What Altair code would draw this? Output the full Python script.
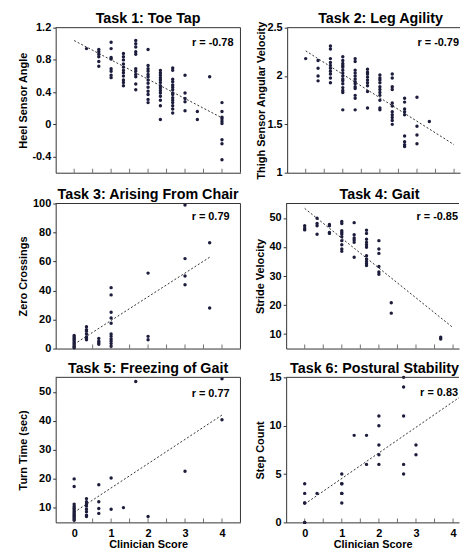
import altair as alt
import pandas as pd

FONT = "Liberation Sans"
INK = "#1c1c3c"
FRAME = "#333333"

# ---- data: x columns are clinician scores in thirds (k -> k/3) ----
t1_cols = [1, 2, 3, 4, 5, 6, 7, 8, 9, 10, 11, 12]
t1_vals = [
    [0.94],
    [0.93, 0.90, 0.87, 0.84, 0.78, 0.72],
    [1.02, 0.94, 0.83, 0.81, 0.69, 0.66, 0.61, 0.58],
    [0.88, 0.84, 0.80, 0.75, 0.71, 0.67, 0.64, 0.60, 0.55, 0.52, 0.48],
    [1.04, 1.00, 0.96, 0.90, 0.87, 0.69, 0.66, 0.62, 0.59, 0.50, 0.43],
    [0.93, 0.73, 0.69, 0.66, 0.62, 0.59, 0.55, 0.51, 0.46, 0.41, 0.37, 0.31, 0.27],
    [0.67, 0.64, 0.61, 0.58, 0.55, 0.52, 0.48, 0.45, 0.42, 0.39, 0.35, 0.30, 0.23, 0.06],
    [0.70, 0.67, 0.56, 0.53, 0.49, 0.46, 0.43, 0.39, 0.37, 0.33, 0.30, 0.27, 0.23, 0.19, 0.14],
    [0.61, 0.39, 0.32, 0.28, 0.17],
    [0.16, 0.06],
    [0.59],
    [0.27, 0.16, 0.09, 0.07, 0.04, 0.01, -0.19, -0.24, -0.44],
]

t2_cols = [0, 1, 2, 3, 4, 5, 6, 7, 8, 9, 10]
t2_vals = [
    [2.18],
    [2.16, 2.08, 2.00, 1.95],
    [2.31, 2.28, 2.18, 2.14, 2.11, 2.08, 2.05, 2.02, 1.98, 1.93],
    [2.20, 2.16, 2.13, 2.11, 2.09, 2.06, 2.03, 2.00, 1.97, 1.95, 1.92, 1.88, 1.85, 1.83, 1.65],
    [2.18, 2.15, 2.06, 2.03, 2.00, 1.97, 1.94, 1.92, 1.89, 1.87, 1.80, 1.77, 1.65],
    [2.07, 2.04, 2.02, 1.99, 1.96, 1.93, 1.90, 1.84, 1.67],
    [2.01, 1.98, 1.96, 1.93, 1.89, 1.86, 1.83, 1.80, 1.75, 1.67, 1.65],
    [2.02, 1.98, 1.89, 1.86, 1.72, 1.69, 1.63, 1.60, 1.57, 1.54, 1.50],
    [1.77, 1.73, 1.66, 1.63, 1.60, 1.38, 1.32, 1.29, 1.27],
    [1.78, 1.48, 1.39, 1.30],
    [1.53],
]

t3_cols = [0, 1, 2, 3, 6, 9, 11]
t3_vals = [
    [9, 8, 7, 6, 5, 4, 3, 2, 1, 0.5],
    [15, 13, 12, 10, 8, 7, 6],
    [7, 5, 4, 3],
    [42, 37, 25, 21, 17.5, 10, 8.4, 6.6, 5, 3.4, 1.6],
    [52, 8.4, 6],
    [99, 62, 50, 44],
    [73, 28],
]

t4_cols = [0, 1, 2, 3, 4, 5, 6, 7, 11]
t4_vals = [
    [47.3, 46.5, 45.9],
    [49.9, 48.1, 47.3, 44.4],
    [47.8, 47.3, 45.0, 44.7],
    [48.8, 48.1, 45.6, 45.0, 44.4, 43.5, 42.2, 40.8, 39.3, 38.5],
    [48.4, 44.2, 43.1, 42.4, 41.6, 36.5],
    [45.8, 44.7, 42.7, 41.6, 40.8, 39.9, 37.0, 35.9, 35.0, 34.2, 33.6],
    [42.2, 39.3, 37.8, 33.3, 31.4, 30.6],
    [20.8, 17.2],
    [8.9, 8.3],
]

t5_cols = [0, 1, 2, 3, 4, 5, 6, 9, 12]
t5_vals = [
    [20.0, 17.4, 11.3, 10.6, 10.0, 9.5, 8.9, 8.4, 7.9, 7.5, 7.0, 6.6, 6.1, 5.7],
    [13.2, 12.1, 11.3, 10.6, 9.5, 8.7, 7.5, 7.0],
    [18.0, 12.1, 9.8, 8.1],
    [20.3, 9.5],
    [10.1],
    [53.6],
    [7.0],
    [22.6],
    [54.5, 40.4],
]

t6_cols = [0, 1, 3, 4, 5, 6, 8, 9]
t6_vals = [
    [4, 3, 2, 2, 0, 0],
    [3],
    [5, 4, 4, 3, 3, 2],
    [9],
    [9, 6],
    [11, 10, 8, 7, 6],
    [15, 14, 11, 6, 5],
    [8, 7],
]

titles = ["Task 1: Toe Tap", "Task 2: Leg Agility", "Task 3: Arising From Chair",
          "Task 4: Gait", "Task 5: Freezing of Gait", "Task 6: Postural Stability"]
y_titles = ["Heel Sensor Angle", "Thigh Sensor Angular Velocity", "Zero Crossings",
            "Stride Velocity", "Turn Time (sec)", "Step Count"]
y_domains = [[-0.6, 1.2], [1, 2.5], [0, 100], [5, 55], [5, 55], [0, 15]]
y_ticks = [[-0.4, 0, 0.4, 0.8, 1.2], [1, 1.5, 2, 2.5], [0, 20, 40, 60, 80, 100],
           [10, 20, 30, 40, 50], [10, 20, 30, 40, 50], [0, 5, 10, 15]]
r_labels = ["r = -0.78", "r = -0.79", "r = 0.79", "r = -0.85", "r = 0.77", "r = 0.83"]
# fitted line endpoints (x, y)
fit_x = [[0, 4], [0, 4], [0, 3.67], [0, 4], [0, 4], [0, 4.5]]
fit_y = [[1.04, 0.08], [2.26, 1.29], [3, 63], [53.3, 12.2], [8.5, 42], [1.9, 13.8]]

x_ticks = [0, 0.5, 1, 1.5, 2, 2.5, 3, 3.5, 4]
x_labels = [0, 1, 2, 3, 4]

all_cols = [t1_cols, t2_cols, t3_cols, t4_cols, t5_cols, t6_cols]
all_vals = [t1_vals, t2_vals, t3_vals, t4_vals, t5_vals, t6_vals]

H = 146
W_COL = [186, 174]                 # right column is cut by the page edge
X_DOM = [[-0.5, 4.5], [-0.5, 4.16]]
r_dx = [7, 1, 11, 1, 11, 1]
r_dy = [15, 15, 14, 14, 17, 16]
title_dx = [0, 7, 0, 7, 0, 2]


def panel(i):
    col = i % 2
    bottom = i >= 4
    W = W_COL[col]
    rows = []
    for k, vs in zip(all_cols[i], all_vals[i]):
        for v in vs:
            rows.append({"x": k / 3, "y": v})
    pts = pd.DataFrame(rows)
    fit = pd.DataFrame({"x": fit_x[i], "y": fit_y[i]})
    tks = pd.DataFrame({"x": x_ticks, "y": [y_domains[i][0]] * len(x_ticks)})
    lab = pd.DataFrame({"t": [r_labels[i]]})
    top = pd.DataFrame({"y": [y_domains[i][1]]})
    right = pd.DataFrame({"x": [X_DOM[col][1]]})

    xs = alt.Scale(domain=X_DOM[col], nice=False, zero=False)
    ys = alt.Scale(domain=y_domains[i], nice=False, zero=False)
    ext = 24 if col == 0 else 19
    tpad = 3 if col == 0 else 2
    yaxis = alt.Axis(values=y_ticks[i], grid=False, domain=True, domainColor=FRAME,
                     tickSize=3, labelPadding=2, minExtent=ext, maxExtent=ext,
                     titlePadding=tpad, title=y_titles[i],
                     labelExpr="datum.value < 0 ? '-' + format(-datum.value, '~g') : format(datum.value, '~g')")
    if bottom:
        xaxis = alt.Axis(values=x_labels, grid=False, domain=True, domainColor=FRAME,
                         ticks=False, labelPadding=5, titlePadding=0, format="d",
                         title="Clinician Score")
    else:
        xaxis = alt.Axis(values=x_labels, grid=False, domain=True, domainColor=FRAME,
                         ticks=False, labels=False, title=None)
    xenc = alt.X("x:Q", scale=xs, axis=xaxis)
    yenc = alt.Y("y:Q", scale=ys, axis=yaxis)

    points = alt.Chart(pts).mark_circle(size=12, color=INK, opacity=1).encode(x=xenc, y=yenc)
    line = alt.Chart(fit).mark_line(strokeDash=[2, 2], color=FRAME, strokeWidth=1,
                                    clip=True).encode(x=xenc, y=yenc)
    ticks = alt.Chart(tks).mark_tick(orient="vertical", size=4, thickness=1, color=FRAME,
                                     yOffset=-2).encode(x=xenc, y=yenc)
    top_rule = alt.Chart(top).mark_rule(color=FRAME, strokeWidth=1).encode(y=yenc)
    layers = [line, points, ticks, top_rule]
    if col == 0:
        layers.append(alt.Chart(right).mark_rule(color=FRAME, strokeWidth=1).encode(x=xenc))
    rtext = alt.Chart(lab).mark_text(align="right", baseline="middle", font=FONT,
                                     fontWeight="bold", fontSize=11, color="#000").encode(
        x=alt.value(W - r_dx[i]), y=alt.value(r_dy[i]), text="t:N")
    # invisible spacer so every panel has the same overhang above its frame
    spacer = alt.Chart(lab).mark_text(align="center", baseline="middle", font=FONT,
                                      fontWeight="bold", fontSize=11, opacity=0).encode(
        x=alt.value(W / 2), y=alt.value(0), text=alt.value("0"))
    layers += [rtext, spacer]
    return alt.layer(*layers).properties(
        width=W, height=H,
        title=alt.TitleParams(titles[i], font=FONT, fontSize=14.4, fontWeight="bold",
                              offset=-5, anchor="middle", color="#000", frame="group",
                              dx=title_dx[i]))


rows = [alt.hconcat(panel(2 * r), panel(2 * r + 1), spacing=13) for r in range(3)]
chart = alt.vconcat(*rows, spacing=7).properties(
    padding={"left": 10, "top": 0, "right": 0, "bottom": 0}
).configure_view(stroke=None).configure_axis(
    labelFont=FONT, labelFontWeight="bold", labelFontSize=11, labelColor="#000",
    titleFont=FONT, titleFontWeight="bold", titleFontSize=11, titleColor="#000",
    tickColor=FRAME)

chart.save("out.html", embed_options={"renderer": "svg", "actions": False})
